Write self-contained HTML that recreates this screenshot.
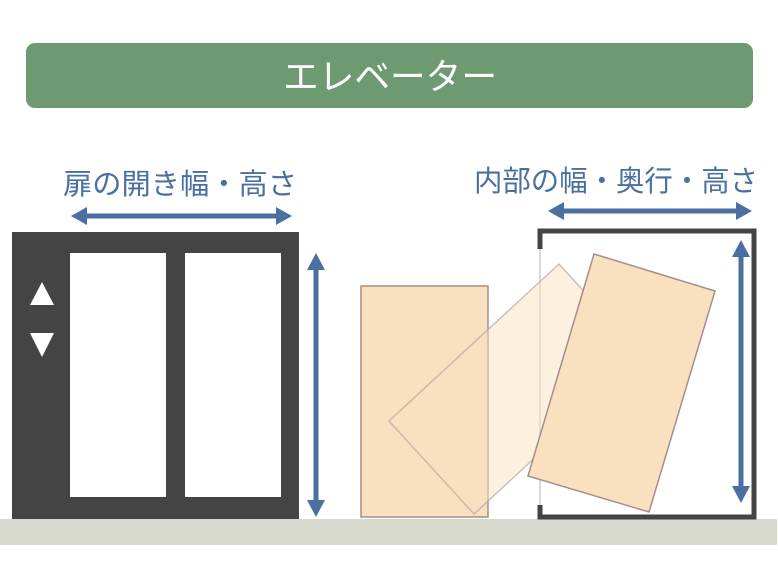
<!DOCTYPE html>
<html><head><meta charset="utf-8"><style>html,body{margin:0;padding:0;background:#fff}svg{display:block}</style></head>
<body>
<svg width="778" height="586" viewBox="0 0 778 586" xmlns="http://www.w3.org/2000/svg" font-family="'Liberation Sans','Noto Sans CJK JP',sans-serif">
<rect width="778" height="586" fill="#fff"/>
<rect x="26" y="43" width="727" height="65" rx="9" fill="#6e9a72"/>
<text x="390" y="89" font-size="36" fill="#fff" text-anchor="middle" textLength="214" lengthAdjust="spacingAndGlyphs">エレベーター</text>
<rect x="0" y="519" width="777" height="26" fill="#d6d9cb"/>
<!-- left elevator -->
<rect x="12" y="232" width="287" height="287" fill="#444"/>
<rect x="70" y="253" width="96" height="244" fill="#fff"/>
<rect x="185" y="253" width="96" height="244" fill="#fff"/>
<polygon points="42,282 54,305 30,305" fill="#fff"/>
<polygon points="30,333 54,333 42,357" fill="#fff"/>
<g fill="#4a6fa0">
<text x="180" y="194" font-size="29" text-anchor="middle" textLength="234" lengthAdjust="spacingAndGlyphs">扉の開き幅・高さ</text>
<text x="616" y="191" font-size="29" text-anchor="middle" textLength="284" lengthAdjust="spacingAndGlyphs">内部の幅・奥行・高さ</text>
<rect x="86" y="213.5" width="190" height="5"/>
<polygon points="71,216 87,207 87,225"/><polygon points="292,216 276,207 276,225"/>
<rect x="313.5" y="268" width="5" height="236"/>
<polygon points="316,253 307,270 325,270"/><polygon points="316,517 307,500 325,500"/>
<rect x="563" y="208.5" width="174" height="5"/>
<polygon points="548,211 564,202 564,220"/><polygon points="752,211 736,202 736,220"/>
<rect x="738.5" y="255" width="5" height="234"/>
<polygon points="741,240 732,257 750,257"/><polygon points="741,503 732,486 750,486"/>
</g>
<!-- right elevator frame -->
<line x1="540" y1="248" x2="540" y2="505" stroke="#ccc" stroke-width="1.5"/>
<polyline points="540,249 540,231 754,231 754,517 540,517 540,505" fill="none" stroke="#444" stroke-width="5"/>
<!-- boxes -->
<rect x="361" y="286" width="127" height="231" fill="#f9e1c0" stroke="#a48e8c" stroke-width="1.5"/>
<polygon points="559,264 644,357 474,514 389,421" fill="#f9e1c0" fill-opacity="0.5" stroke="#b9a6a2" stroke-opacity="0.7" stroke-width="1.5"/>
<polygon points="594,254 715,291 649,512 528,476" fill="#f9e1c0" stroke="#a48e8c" stroke-width="1.5"/>
</svg>
</body></html>
